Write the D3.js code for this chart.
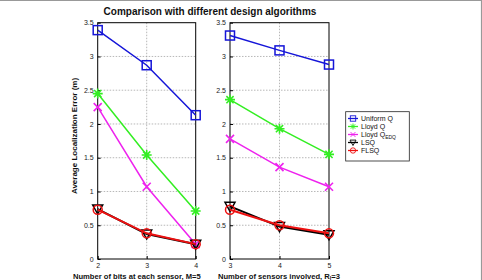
<!DOCTYPE html>
<html>
<head>
<meta charset="utf-8">
<script src="https://cdn.jsdelivr.net/npm/d3@7"></script>
<style>
  body { margin: 0; background: #fff; }
  svg { display: block; font-family: "Liberation Sans", Arial, sans-serif; }
</style>
</head>
<body>
<svg id="chart" width="482" height="280"></svg>
<script>
// data
const bitsX = [2, 3, 4];
const sensorsX = [3, 4, 5];
const yTicks = [0, 0.5, 1, 1.5, 2, 2.5, 3, 3.5];

const seriesNames = ["Uniform Q", "Lloyd Q", "Lloyd Q_EDQ", "LSQ", "FLSQ"];

// left panel: vs number of bits
const uniformBits = [3.39, 2.87, 2.13];
const lloydBits = [2.45, 1.54, 0.71];
const edqBits = [2.25, 1.07, 0.22];
const lsqBits = [0.74, 0.37, 0.22];
const flsqBits = [0.73, 0.38, 0.22];

// right panel: vs number of sensors
const uniformSensors = [3.31, 3.09, 2.88];
const lloydSensors = [2.36, 1.93, 1.55];
const edqSensors = [1.78, 1.36, 1.07];
const lsqSensors = [0.78, 0.48, 0.36];
const flsqSensors = [0.73, 0.50, 0.38];

const colors = ["#1515d8", "#33ee22", "#ee22ee", "#000000", "#ee1111"];
const markers = ["square", "asterisk", "cross", "triangle", "circle"];

const svg = d3.select("#chart");

// frame edge of the picture
svg.append("path").attr("d", "M0,0.5H481.5V280")
  .attr("fill", "none").attr("stroke", "#999").attr("stroke-width", 1.2);

const plotTop = 22.7, plotBottom = 259;
const y = d3.scaleLinear().domain([0, 3.5]).range([plotBottom, plotTop]);

function drawMarker(g, kind, cx, cy, color) {
  if (kind == "square") {
    g.append("rect").attr("x", cx - 4.5).attr("y", cy - 4.5).attr("width", 9).attr("height", 9)
      .attr("fill", "none").attr("stroke", color).attr("stroke-width", 1.5);
  } else if (kind == "circle") {
    g.append("circle").attr("cx", cx).attr("cy", cy).attr("r", 4.5)
      .attr("fill", "none").attr("stroke", color).attr("stroke-width", 1.5);
  } else if (kind == "triangle") {
    g.append("path").attr("d", `M${cx-5},${cy-4}L${cx+5},${cy-4}L${cx},${cy+5}Z`)
      .attr("fill", "none").attr("stroke", color).attr("stroke-width", 1.5);
  } else if (kind == "cross") {
    g.append("path").attr("d", `M${cx-4},${cy-4}L${cx+4},${cy+4}M${cx-4},${cy+4}L${cx+4},${cy-4}`)
      .attr("stroke", color).attr("stroke-width", 1.6);
  } else if (kind == "asterisk") {
    g.append("path").attr("d", `M${cx-5},${cy}L${cx+5},${cy}M${cx},${cy-5}L${cx},${cy+5}M${cx-3.6},${cy-3.6}L${cx+3.6},${cy+3.6}M${cx-3.6},${cy+3.6}L${cx+3.6},${cy-3.6}`)
      .attr("stroke", color).attr("stroke-width", 1.6);
  }
}

function panel(x0, x1, xs, data) {
  const x = d3.scaleLinear().domain(d3.extent(xs)).range([x0, x1]);
  const g = svg.append("g");

  // dotted grid
  g.selectAll(".gy").data(yTicks.slice(1, -1)).enter().append("line")
    .attr("x1", x0).attr("x2", x1).attr("y1", d => y(d)).attr("y2", d => y(d))
    .attr("stroke", "#999").attr("stroke-width", 0.7).attr("stroke-dasharray", "1.5,1.5");
  g.selectAll(".gx").data(xs.slice(1, -1)).enter().append("line")
    .attr("x1", d => x(d)).attr("x2", d => x(d)).attr("y1", plotTop).attr("y2", plotBottom)
    .attr("stroke", "#999").attr("stroke-width", 0.7).attr("stroke-dasharray", "1.5,1.5");

  // axes
  const yAxis = d3.axisLeft(y).tickValues(yTicks).tickSize(-3).tickPadding(4).tickFormat(d3.format("~g"));
  g.append("g").attr("transform", `translate(${x0},0)`).call(yAxis)
    .call(a => a.select(".domain").remove())
    .call(a => a.selectAll("text").attr("font-size", 7).attr("fill", "#222").attr("font-family", "Liberation Sans, Arial"));
  const xAxis = d3.axisBottom(x).tickValues(xs).tickSize(-3).tickPadding(4).tickFormat(d3.format("d"));
  g.append("g").attr("transform", `translate(0,${plotBottom})`).call(xAxis)
    .call(a => a.select(".domain").remove())
    .call(a => a.selectAll("text").attr("font-size", 7).attr("fill", "#222").attr("font-family", "Liberation Sans, Arial"));
  g.append("rect").attr("x", x0).attr("y", plotTop).attr("width", x1 - x0).attr("height", plotBottom - plotTop)
    .attr("fill", "none").attr("stroke", "#000").attr("stroke-width", 1);

  const line = d3.line().x((d, i) => x(xs[i])).y(d => y(d));
  data.forEach((vals, k) => {
    g.append("path").datum(vals).attr("d", line)
      .attr("fill", "none").attr("stroke", colors[k]).attr("stroke-width", k >= 3 ? 2 : 1.5);
    vals.forEach((v, i) => drawMarker(g, markers[k], x(xs[i]), y(v), colors[k]));
  });
}

panel(97.7, 195.7, bitsX, [uniformBits, lloydBits, edqBits, lsqBits, flsqBits]);
panel(230, 329, sensorsX, [uniformSensors, lloydSensors, edqSensors, lsqSensors, flsqSensors]);

// title and labels
svg.append("text").attr("x", 210).attr("y", 14.5).attr("text-anchor", "middle")
  .attr("font-size", 10).attr("font-weight", "bold").attr("fill", "#111")
  .text("Comparison with different design algorithms");

svg.append("text").attr("transform", "translate(77,136) rotate(-90)").attr("text-anchor", "middle")
  .attr("font-size", 8).attr("font-weight", "bold").attr("fill", "#111")
  .text("Average Localization Error (m)");

svg.append("text").attr("x", 73).attr("y", 278.5).attr("font-size", 7.6).attr("font-weight", "bold").attr("fill", "#111")
  .text("Number of bits at each sensor,  M=5");

const rl = svg.append("text").attr("x", 218).attr("y", 278.5).attr("font-size", 7.6).attr("font-weight", "bold").attr("fill", "#111");
rl.append("tspan").text("Number of sensors involved, R");
rl.append("tspan").attr("font-size", 5.5).attr("dy", 1.2).text("l");
rl.append("tspan").attr("dy", -1.2).text("=3");

// legend
const lg = svg.append("g");
lg.append("rect").attr("x", 345.7).attr("y", 111.7).attr("width", 63.6).attr("height", 49.3)
  .attr("fill", "#fff").attr("stroke", "#222").attr("stroke-width", 0.8);
seriesNames.forEach((name, k) => {
  const ly = 118.5 + k * 8;
  lg.append("line").attr("x1", 348).attr("x2", 358).attr("y1", ly).attr("y2", ly)
    .attr("stroke", colors[k]).attr("stroke-width", 1.3);
  const s = lg.append("g").attr("transform", `translate(353,${ly}) scale(0.6) translate(-353,${-ly})`);
  drawMarker(s, markers[k], 353, ly, colors[k]);
  const t = lg.append("text").attr("x", 361).attr("y", ly + 2.5).attr("font-size", 7).attr("fill", "#111");
  if (name.includes("_")) {
    const [a, b] = name.split("_");
    t.append("tspan").text(a);
    t.append("tspan").attr("font-size", 5).attr("dy", 2).text(b);
  } else {
    t.text(name);
  }
});
</script>
</body>
</html>
